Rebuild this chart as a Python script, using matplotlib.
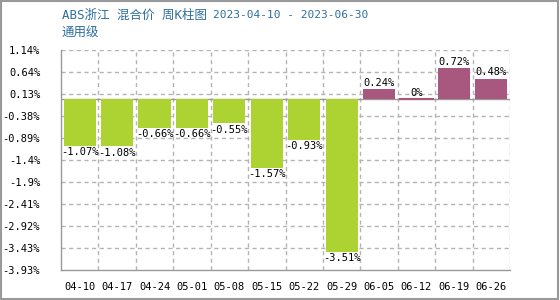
import matplotlib.pyplot as plt
from matplotlib.patches import Rectangle
import numpy as np

weeks = ['04-10', '04-17', '04-24', '05-01', '05-08', '05-15',
         '05-22', '05-29', '06-05', '06-12', '06-19', '06-26']
changes = [-1.07, -1.08, -0.66, -0.66, -0.55, -1.57,
           -0.93, -3.51, 0.24, 0, 0.72, 0.48]
yticks = [1.14, 0.64, 0.13, -0.38, -0.89, -1.4, -1.9, -2.41, -2.92, -3.43, -3.93]
title_name = 'ABS浙江 混合价 周K柱图'
title_dates = '2023-04-10 - 2023-06-30'
subtitle = '通用级'

plt.rcParams['font.family'] = ['Noto Sans CJK SC', 'DejaVu Sans']
plt.rcParams['axes.unicode_minus'] = False
mono = 'DejaVu Sans Mono'

fig = plt.figure(figsize=(5.6, 3), dpi=100)
ax = fig.add_axes([61 / 560, 30 / 300, 449 / 560, 220 / 300])

green = '#acd331'
purple = '#a8587f'
grid_c = '#b4b4b4'
x = np.arange(len(weeks))

ax.set_xlim(-0.5, len(weeks) - 0.5)
ax.set_ylim(-3.93, 1.14)

# dashed grid drawn by hand
for t in yticks[:-1]:
    ax.axhline(t, color=grid_c, linestyle=(0, (3, 2.5)), lw=1.0, zorder=1)
for b in np.arange(len(weeks)) + 0.5:
    ax.axvline(b, color=grid_c, linestyle=(0, (3, 2.5)), lw=1.0, zorder=1)

colors = [purple if v >= 0 else green for v in changes]
ax.bar(x, changes, width=0.86, color=colors, zorder=3)
# thin line for the zero bar
for i, v in enumerate(changes):
    if v == 0:
        ax.plot([i - 0.43, i + 0.43], [0, 0], color=purple, lw=1.5, zorder=3)

for i, v in enumerate(changes):
    label = '{:g}%'.format(v)
    if v >= 0:
        ax.text(i, v + 0.03, label, ha='center', va='bottom', fontsize=7.5,
                family=mono, zorder=4)
    else:
        ax.text(i, v - 0.03, label, ha='center', va='top', fontsize=7.5,
                family=mono, zorder=4)

ax.set_xticks(x)
ax.set_xticklabels(weeks, family=mono, fontsize=7.5)
ax.set_yticks(yticks)
ax.set_yticklabels(['{:g}%'.format(t) for t in yticks], family=mono, fontsize=7.5)
ax.tick_params(axis='both', which='both', length=0)
ax.tick_params(axis='y', pad=15)
ax.tick_params(axis='x', pad=9)

ax.axhline(0, color='#999999', lw=1, zorder=2)

for s in ['top', 'right']:
    ax.spines[s].set_visible(False)
for s in ['left', 'bottom']:
    ax.spines[s].set_color('#999999')
    ax.spines[s].set_linewidth(1)

title_font = ['DejaVu Sans Mono', 'Noto Sans CJK SC']
tc = '#2e6f9e'
fig.text(62 / 560, 1 - 15 / 300, title_name, color=tc, fontsize=9, va='center',
         family=title_font)
fig.text(213 / 560, 1 - 15 / 300, title_dates, color=tc, fontsize=8, va='center',
         family=mono)
fig.text(62 / 560, 1 - 33 / 300, subtitle, color=tc, fontsize=9, va='center',
         family=title_font)

fig.add_artist(Rectangle((0.001, 0.005), 0.996, 0.993, transform=fig.transFigure,
                         fill=False, edgecolor='#999999', lw=1.5, zorder=10))

plt.savefig('out.png', dpi=100)
